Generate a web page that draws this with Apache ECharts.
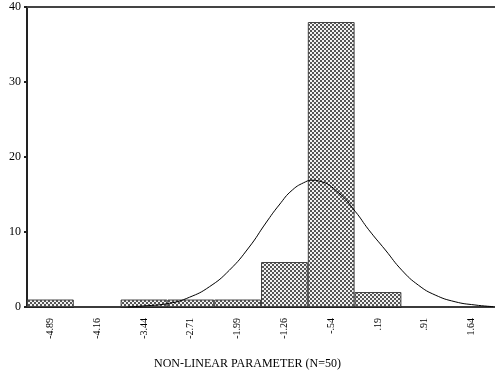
<!DOCTYPE html>
<html><head><meta charset="utf-8">
<script src="https://cdn.jsdelivr.net/npm/echarts@6/dist/echarts.min.js"></script>
<style>html,body{margin:0;padding:0;background:#fff}#c{width:495px;height:381px}</style>
</head><body><div id="c"></div>
<script>
var categories = ['-4.89','-4.16','-3.44','-2.71','-1.99','-1.26','-.54','.19','.91','1.64'];
var counts = [1,0,1,1,1,6,38,2,0,0];
var yTicks = [0,10,20,30,40];
var curveX = [-3.69,-3.505,-3.042,-2.734,-2.425,-2.116,-1.807,-1.550,-1.344,-1.139,-0.932,-0.835,-0.727,-0.418,-0.160,0.045,0.303,0.559,0.817,1.075,1.384,1.692,1.975];
var curveY = [0.0,0.1,0.5,1.3,2.7,4.9,8.0,11.2,13.6,15.6,16.7,16.9,16.8,15.2,12.7,10.3,7.6,4.9,2.9,1.6,0.7,0.27,0.05];
var xMin = -5.2528, xMax = 2.0028;

var tile = document.createElement('canvas');
tile.width = 4; tile.height = 4;
var tc = tile.getContext('2d');
tc.fillStyle = '#f2f2f2'; tc.fillRect(0,0,4,4);
tc.fillStyle = '#555'; tc.fillRect(0,0,2,2); tc.fillRect(2,2,2,2);

var curve = curveX.map(function(x,i){return [x,curveY[i]];});
var font = 'Liberation Serif';
var chart = echarts.init(document.getElementById('c'));
chart.setOption({
  animation:false,
  grid:{left:27,right:0,top:7,bottom:74},
  title:{text:'NON-LINEAR PARAMETER (N=50)',left:'center',top:353,
    textStyle:{fontFamily:font,fontSize:12,fontWeight:'normal',color:'#000'}},
  xAxis:[{type:'category',data:categories,position:'bottom',
    axisLine:{lineStyle:{color:'#222',width:2}},
    axisTick:{alignWithLabel:true,length:3,lineStyle:{color:'#222'}},
    axisLabel:{rotate:90,fontFamily:font,fontSize:10,color:'#000',margin:11},
    splitLine:{show:false}},
   {type:'value',min:xMin,max:xMax,position:'top',
    axisLine:{show:true,onZero:false,lineStyle:{color:'#444',width:2}},
    axisTick:{show:false},axisLabel:{show:false},splitLine:{show:false}}],
  yAxis:{type:'value',min:0,max:40,interval:10,
    axisLine:{show:true,onZero:false,lineStyle:{color:'#222',width:2}},
    axisTick:{show:true,length:3,lineStyle:{color:'#222',width:2}},
    axisLabel:{fontFamily:font,fontSize:12,color:'#000',margin:6,
      formatter:function(v){return yTicks.indexOf(v)>=0?String(v):'';}},
    splitLine:{show:false}},
  series:[
    {type:'bar',data:counts,xAxisIndex:0,barWidth:'100%',barCategoryGap:'0%',
     itemStyle:{color:{image:tile,repeat:'repeat'},borderColor:'#444',borderWidth:1}},
    {type:'line',data:curve,xAxisIndex:1,smooth:true,showSymbol:false,symbol:'none',
     lineStyle:{color:'#000',width:1},z:5}
  ]
});
</script></body></html>
